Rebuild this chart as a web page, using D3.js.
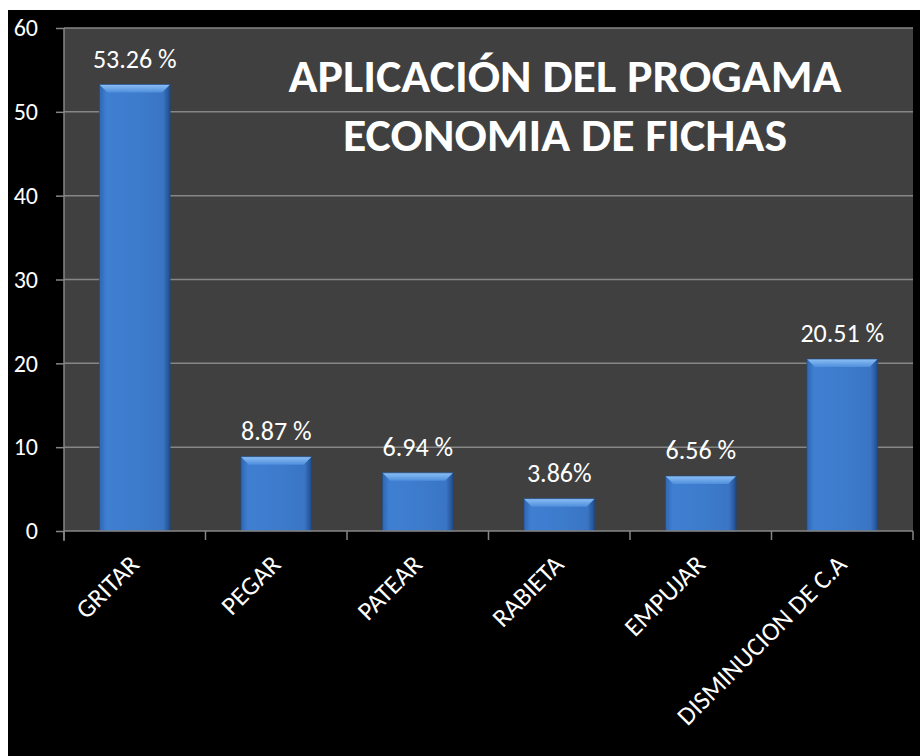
<!DOCTYPE html>
<html>

<head>
  <title>Economia de fichas</title>

  <style>
    body,
    html {
      margin: 0;
      padding: 0;
      background: #ffffff;
    }

    #svg {
      display: block;
    }

    text {
      font-family: Carlito, Lato, "Open Sans", sans-serif;
      fill: #ffffff;
    }
  </style>
</head>

<body>

  <svg id="svg" width="920" height="756"></svg>

  <script src="https://d3js.org/d3.v7.min.js"></script>
  <script>
    // data
    const categories = ["GRITAR", "PEGAR", "PATEAR", "RABIETA", "EMPUJAR", "DISMINUCION DE C.A"]
    const values = [53.26, 8.87, 6.94, 3.86, 6.56, 20.51]
    const valueLabels = ["53.26 %", "8.87 %", "6.94 %", "3.86%", "6.56 %", "20.51 %"]
    const yTicks = [0, 10, 20, 30, 40, 50, 60]
    const titleLines = ["APLICACIÓN DEL PROGAMA", "ECONOMIA DE FICHAS"]

    const plot = { left: 64, right: 913, top: 28, bottom: 531 }

    const svg = d3.select("#svg")

    // black chart area, white strip left and top
    svg.append("rect")
      .attr("x", 8).attr("y", 10)
      .attr("width", 912).attr("height", 746)
      .attr("fill", "#000000")

    svg.append("rect")
      .attr("x", plot.left).attr("y", plot.top)
      .attr("width", plot.right - plot.left)
      .attr("height", plot.bottom - plot.top)
      .attr("fill", "#404040")

    const xScale = d3.scaleBand()
      .domain(categories)
      .range([plot.left, plot.right])
      .paddingInner(0.5)
      .paddingOuter(0.25)

    const yScale = d3.scaleLinear()
      .domain([0, 60])
      .range([plot.bottom, plot.top])

    // gradients for the bevelled bars
    const defs = svg.append("defs")
    const bodyGrad = defs.append("linearGradient").attr("id", "barBody")
      .attr("x1", "0%").attr("x2", "100%").attr("y1", "0%").attr("y2", "0%")
    bodyGrad.append("stop").attr("offset", "0%").attr("stop-color", "#2f66b0")
    bodyGrad.append("stop").attr("offset", "10%").attr("stop-color", "#3f7fd2")
    bodyGrad.append("stop").attr("offset", "55%").attr("stop-color", "#3d7bcc")
    bodyGrad.append("stop").attr("offset", "90%").attr("stop-color", "#3a75c4")
    bodyGrad.append("stop").attr("offset", "100%").attr("stop-color", "#1f4c8c")

    const topGrad = defs.append("linearGradient").attr("id", "barTop")
      .attr("x1", "0%").attr("x2", "0%").attr("y1", "0%").attr("y2", "100%")
    topGrad.append("stop").attr("offset", "0%").attr("stop-color", "#8cc0f5")
    topGrad.append("stop").attr("offset", "100%").attr("stop-color", "#4f8edc")

    // gridlines
    svg.append("g")
      .selectAll("line")
      .data(yTicks.filter(d => d > 0))
      .join("line")
      .attr("x1", plot.left).attr("x2", plot.right)
      .attr("y1", d => yScale(d)).attr("y2", d => yScale(d))
      .attr("stroke", "#868686")
      .attr("stroke-width", 1.5)

    // y axis
    const yAxis = d3.axisLeft(yScale)
      .tickValues(yTicks)
      .tickSize(8)
      .tickPadding(18)
      .tickFormat(d3.format("d"))

    const yG = svg.append("g")
      .attr("transform", `translate(${plot.left},0)`)
      .call(yAxis)
    yG.select(".domain")
      .attr("d", `M0,${plot.top}V${plot.bottom + 10}`)
      .attr("stroke", "#868686").attr("stroke-width", 1.5)
    yG.selectAll(".tick line").attr("stroke", "#868686").attr("stroke-width", 1.5)
    yG.selectAll(".tick text")
      .attr("font-size", 24)
      .attr("fill", "#ffffff")
      .style("font-family", "Carlito, Lato, 'Open Sans', sans-serif")

    // bars
    const bev = 8
    const bars = svg.append("g")
      .selectAll("g")
      .data(values)
      .join("g")

    bars.append("rect")
      .attr("x", (d, i) => xScale(categories[i]))
      .attr("y", d => yScale(d))
      .attr("width", xScale.bandwidth())
      .attr("height", d => yScale(0) - yScale(d))
      .attr("fill", "url(#barBody)")

    bars.append("path")
      .attr("d", (d, i) => {
        const x0 = xScale(categories[i])
        const x1 = x0 + xScale.bandwidth()
        const y0 = yScale(d)
        return `M${x0},${y0}L${x1},${y0}L${x1 - bev},${y0 + bev}L${x0 + bev},${y0 + bev}Z`
      })
      .attr("fill", "url(#barTop)")

    bars.append("rect")
      .attr("x", (d, i) => xScale(categories[i]))
      .attr("y", d => yScale(d))
      .attr("width", xScale.bandwidth())
      .attr("height", d => yScale(0) - yScale(d))
      .attr("fill", "none")
      .attr("stroke", "#1d467f")
      .attr("stroke-width", 1)
      .attr("stroke-opacity", 0.6)

    // x axis line and boundary ticks
    svg.append("line")
      .attr("x1", plot.left).attr("x2", plot.right)
      .attr("y1", plot.bottom).attr("y2", plot.bottom)
      .attr("stroke", "#868686").attr("stroke-width", 1.5)

    svg.append("g")
      .selectAll("line")
      .data(d3.range(categories.length + 1))
      .join("line")
      .attr("x1", i => plot.left + i * xScale.step())
      .attr("x2", i => plot.left + i * xScale.step())
      .attr("y1", plot.bottom).attr("y2", plot.bottom + 9)
      .attr("stroke", "#868686").attr("stroke-width", 1.5)

    // value labels
    svg.append("g")
      .selectAll("text")
      .data(values)
      .join("text")
      .attr("x", (d, i) => xScale(categories[i]) + xScale.bandwidth() / 2)
      .attr("y", d => yScale(d) - 17)
      .attr("text-anchor", "middle")
      .attr("font-size", 26)
      .text((d, i) => valueLabels[i])

    // category labels, rotated
    svg.append("g")
      .selectAll("text")
      .data(categories)
      .join("text")
      .attr("transform", d => {
        const cx = xScale(d) + xScale.bandwidth() / 2
        return `translate(${cx + 6},566) rotate(-45)`
      })
      .attr("text-anchor", "end")
      .attr("font-size", 26)
      .text(d => d)

    // title
    svg.append("g")
      .selectAll("text")
      .data(titleLines)
      .join("text")
      .attr("x", 565)
      .attr("y", (d, i) => 92 + i * 59)
      .attr("text-anchor", "middle")
      .attr("font-size", 46)
      .attr("font-weight", "bold")
      .attr("textLength", (d, i) => i === 0 ? 553 : 444)
      .attr("lengthAdjust", "spacingAndGlyphs")
      .text(d => d)

  </script>
</body>

</html>
